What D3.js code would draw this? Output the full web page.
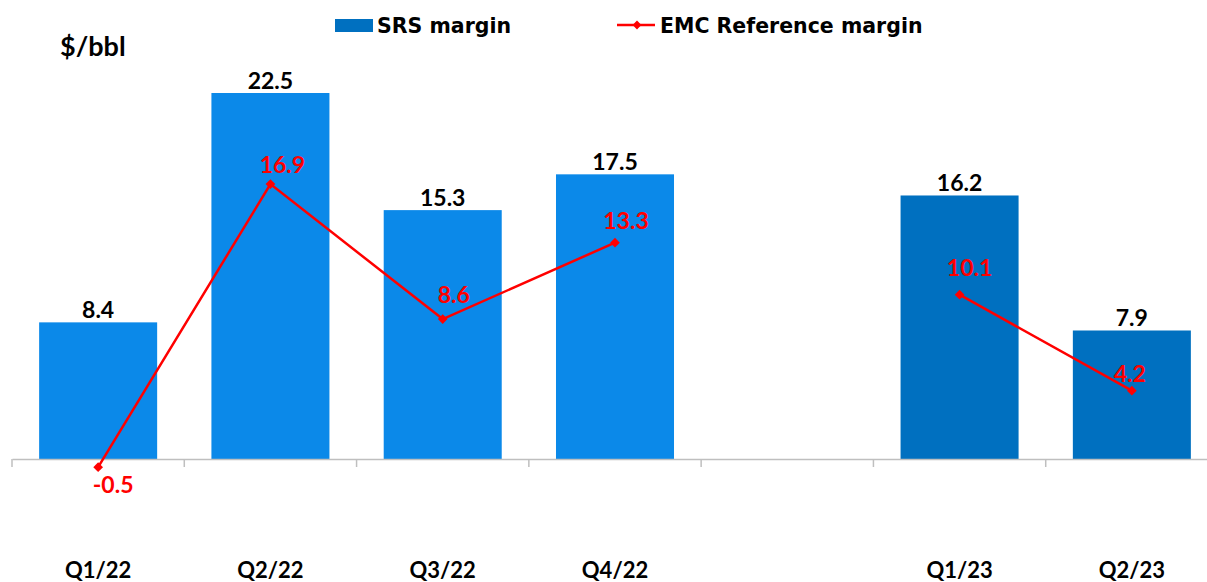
<!DOCTYPE html>
<html>
<head>
<meta charset="utf-8">
<script src="https://cdn.jsdelivr.net/npm/d3@7"></script>
<style>
  body { margin: 0; background: #fff; }
  text { font-family: "Lato", "DejaVu Sans", sans-serif; font-weight: bold; }
  .legend text { font-family: "DejaVu Sans", sans-serif; }
</style>
</head>
<body>
<svg id="chart" width="1207" height="582"></svg>
<script>
// chart data
var categories = ['Q1/22', 'Q2/22', 'Q3/22', 'Q4/22', '', 'Q1/23', 'Q2/23'];
var srsMargin = [8.4, 22.5, 15.3, 17.5, null, 16.2, 7.9];
var emcMargin = [-0.5, 16.9, 8.6, 13.3, null, 10.1, 4.2];
var barColors = ['#0b89e9', '#0b89e9', '#0b89e9', '#0b89e9', null, '#0070c0', '#0070c0'];

// nudges of the red labels, as placed in the original
var labelDx = [15, 12, 11, 11, 0, 10, -2];
var labelDy = [26, -11, -16, -14, 0, -19, -9];

var svg = d3.select('#chart');

var x = d3.scaleBand().domain(d3.range(categories.length)).range([12, 1218]);
var y = d3.scaleLinear().domain([0, 22.5]).range([459, 93]);
var barW = x.bandwidth() * 0.685;
var cx = function(i) { return x(i) + x.bandwidth() / 2; };

// bars
var bars = d3.range(categories.length).filter(function(i) { return srsMargin[i] != null; });
svg.selectAll('.bar')
  .data(bars)
  .enter().append('rect')
  .attr('class', 'bar')
  .attr('x', function(i) { return cx(i) - barW / 2; })
  .attr('y', function(i) { return y(srsMargin[i]); })
  .attr('width', barW)
  .attr('height', function(i) { return y(0) - y(srsMargin[i]); })
  .attr('fill', function(i) { return barColors[i]; });

svg.selectAll('.bar-label')
  .data(bars)
  .enter().append('text')
  .attr('x', function(i) { return cx(i); })
  .attr('y', function(i) { return y(srsMargin[i]) - 4; })
  .attr('text-anchor', 'middle')
  .attr('font-size', 23)
  .attr('fill', '#000')
  .text(function(i) { return srsMargin[i].toFixed(1); });

// x axis
var axis = svg.append('g')
  .attr('transform', 'translate(0,' + y(0) + ')')
  .call(d3.axisBottom(x).tickValues([]).tickSizeOuter(0));
axis.select('.domain').attr('stroke', '#bfbfbf').attr('stroke-width', 1.5);
svg.selectAll('.tick-mark')
  .data(d3.range(categories.length + 1))
  .enter().append('line')
  .attr('x1', function(i) { return 12 + i * x.step(); })
  .attr('x2', function(i) { return 12 + i * x.step(); })
  .attr('y1', y(0))
  .attr('y2', y(0) + 8)
  .attr('stroke', '#bfbfbf')
  .attr('stroke-width', 1.5);

svg.selectAll('.cat-label')
  .data(d3.range(categories.length))
  .enter().append('text')
  .attr('x', function(i) { return cx(i); })
  .attr('y', 578)
  .attr('text-anchor', 'middle')
  .attr('font-size', 22)
  .text(function(i) { return categories[i]; });

// EMC line
var line = d3.line()
  .defined(function(i) { return emcMargin[i] != null; })
  .x(function(i) { return cx(i); })
  .y(function(i) { return y(emcMargin[i]); });

svg.append('path')
  .datum(d3.range(categories.length))
  .attr('d', line)
  .attr('fill', 'none')
  .attr('stroke', '#ff0000')
  .attr('stroke-width', 2.5);

var pts = d3.range(categories.length).filter(function(i) { return emcMargin[i] != null; });
svg.selectAll('.pt')
  .data(pts)
  .enter().append('path')
  .attr('d', d3.symbol().type(d3.symbolDiamond2).size(60))
  .attr('transform', function(i) { return 'translate(' + cx(i) + ',' + y(emcMargin[i]) + ')'; })
  .attr('fill', '#ff0000');

svg.selectAll('.pt-label')
  .data(pts)
  .enter().append('text')
  .attr('x', function(i) { return cx(i) + labelDx[i]; })
  .attr('y', function(i) { return y(emcMargin[i]) + labelDy[i]; })
  .attr('text-anchor', 'middle')
  .attr('font-size', 23)
  .attr('fill', '#ff0000')
  .text(function(i) { return emcMargin[i].toFixed(1); });

// unit label
svg.append('text')
  .attr('x', 60)
  .attr('y', 56)
  .attr('font-size', 27)
  .text('$/bbl');

// legend
var legend = svg.append('g').attr('class', 'legend');
legend.append('rect').attr('x', 335).attr('y', 19).attr('width', 38).attr('height', 13).attr('fill', '#0070c0');
legend.append('text').attr('x', 377).attr('y', 33).attr('font-size', 20.5).text('SRS margin');
legend.append('line').attr('x1', 617).attr('x2', 655).attr('y1', 25).attr('y2', 25)
  .attr('stroke', '#ff0000').attr('stroke-width', 2.5);
legend.append('path')
  .attr('d', d3.symbol().type(d3.symbolDiamond2).size(50))
  .attr('transform', 'translate(637,25)')
  .attr('fill', '#ff0000');
legend.append('text').attr('x', 660).attr('y', 33).attr('font-size', 20.5).text('EMC Reference margin');
</script>
</body>
</html>
